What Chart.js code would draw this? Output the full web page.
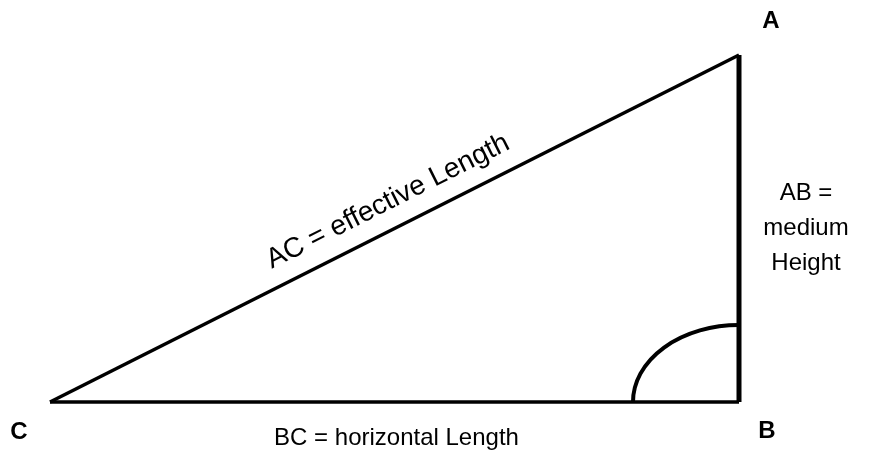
<!DOCTYPE html>
<html lang="en">
<head>
    <meta charset="UTF-8">
    <script src="https://cdn.jsdelivr.net/npm/chart.js"></script>
    <title>Triangle</title>
    <style>
        html, body { margin: 0; padding: 0; background: #fff; }
        .chart-container { width: 884px; height: 457px; position: relative; }
    </style>
</head>
<body>
    <div class="chart-container">
        <canvas id="triangleChart"></canvas>
    </div>
    <script>
        // Vertices of the triangle (data units)
        var vertexNames = ['C', 'B', 'A'];
        var vertexX = [0, 689, 689];
        var vertexY = [0, 0, 347];

        // Side labels
        var labelBC = 'BC = horizontal Length';
        var labelAB = ['AB =', 'medium', 'Height'];
        var labelAC = 'AC = effective Length';

        function pt(i) {
            return { x: vertexX[i], y: vertexY[i] };
        }

        var triangleData = {
            datasets: [{
                label: 'BC',
                data: [pt(0), pt(1)],
                borderColor: '#000',
                borderWidth: 3.5
            }, {
                label: 'AB',
                data: [pt(1), pt(2)],
                borderColor: '#000',
                borderWidth: 5
            }, {
                label: 'AC',
                data: [pt(0), pt(2)],
                borderColor: '#000',
                borderWidth: 3.5
            }]
        };

        // Right angle arc + all text drawn after the lines
        var annotations = {
            id: 'annotations',
            afterDatasetsDraw: function (chart) {
                var ctx = chart.ctx;
                var xs = chart.scales.x, ys = chart.scales.y;
                var C = { x: xs.getPixelForValue(vertexX[0]), y: ys.getPixelForValue(vertexY[0]) };
                var B = { x: xs.getPixelForValue(vertexX[1]), y: ys.getPixelForValue(vertexY[1]) };
                var A = { x: xs.getPixelForValue(vertexX[2]), y: ys.getPixelForValue(vertexY[2]) };

                ctx.save();
                // angle mark at B
                ctx.strokeStyle = '#000';
                ctx.lineWidth = 4;
                ctx.beginPath();
                ctx.ellipse(B.x, B.y, 106, 77, 0, Math.PI, Math.PI * 1.5);
                ctx.stroke();

                ctx.fillStyle = '#000';
                ctx.textAlign = 'center';
                ctx.textBaseline = 'middle';

                // vertex letters
                ctx.font = 'bold 24px "Liberation Sans", Arial, sans-serif';
                ctx.fillText(vertexNames[2], A.x + 32, A.y - 34);
                ctx.fillText(vertexNames[1], B.x + 28, B.y + 29);
                ctx.fillText(vertexNames[0], C.x - 31, C.y + 30);

                ctx.font = '24px "Liberation Sans", Arial, sans-serif';
                ctx.fillText(labelBC, (B.x + C.x) / 2 + 2, B.y + 36);

                for (var i = 0; i < labelAB.length; i++) {
                    ctx.fillText(labelAB[i], A.x + 67, 193 + i * 35);
                }

                // hypotenuse label
                var ang = Math.atan2(A.y - C.y, A.x - C.x);
                var mx = (A.x + C.x) / 2, my = (A.y + C.y) / 2;
                ctx.translate(mx + 30 * Math.sin(ang) + 7, my - 30 * Math.cos(ang));
                ctx.rotate(ang);
                ctx.font = '28px "Liberation Sans", Arial, sans-serif';
                ctx.fillText(labelAC, 0, 0);
                ctx.restore();
            }
        };

        var triangleCtx = document.getElementById('triangleChart').getContext('2d');
        new Chart(triangleCtx, {
            type: 'scatter',
            data: triangleData,
            options: {
                responsive: true,
                maintainAspectRatio: false,
                animation: false,
                showLine: true,
                elements: { point: { radius: 0, hoverRadius: 0 } },
                layout: { padding: 0 },
                plugins: { legend: { display: false }, tooltip: { enabled: false } },
                scales: {
                    x: { type: 'linear', min: -50, max: 834, display: false },
                    y: { type: 'linear', min: -55, max: 402, display: false }
                }
            },
            plugins: [annotations]
        });
    </script>
</body>
</html>
